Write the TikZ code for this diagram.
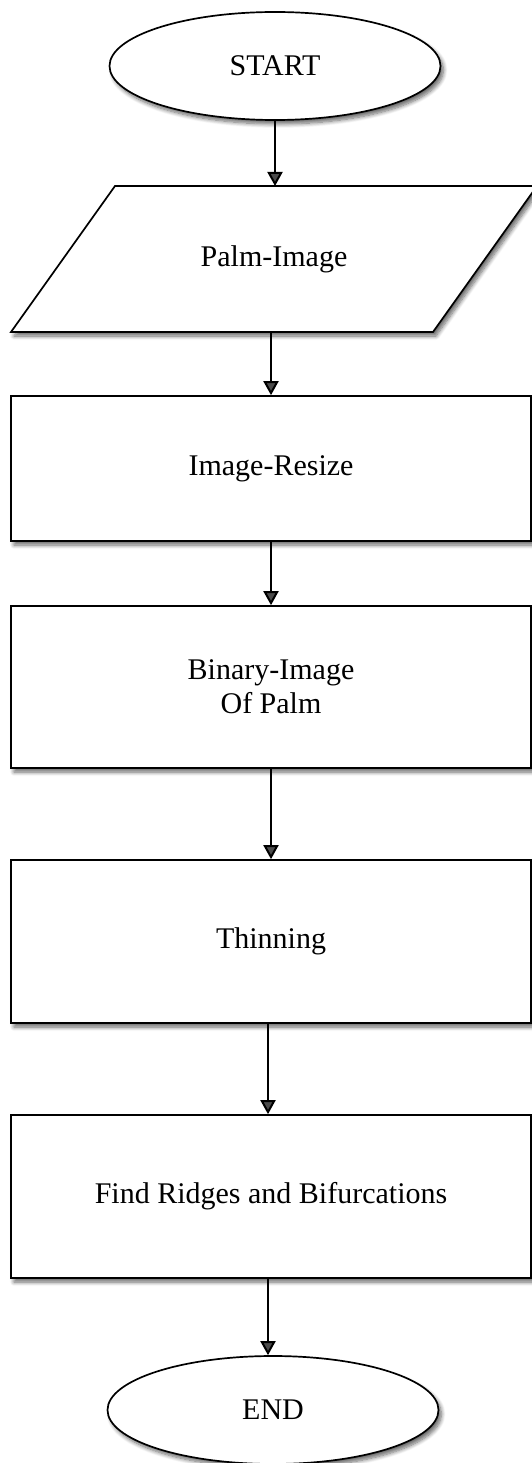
\documentclass[tikz,border=0pt]{standalone}
\usepackage{fontspec}
\setmainfont{Liberation Serif}
\usetikzlibrary{shapes.geometric,arrows.meta,shadows.blur}
\begin{document}
\begin{tikzpicture}[x=1pt,y=-1pt,
  shad/.style={blur shadow={shadow xshift=3pt,shadow yshift=-4pt,shadow blur steps=8,shadow blur radius=4pt,shadow opacity=60}},
  base/.style={draw=black,line width=1.7pt,fill=white,inner sep=0pt,align=center,
    font=\fontsize{30}{34}\selectfont,shad},
  term/.style={base,ellipse,minimum width=331pt,minimum height=108pt},
  lbl/.style={inner sep=0pt,align=center,font=\fontsize{30}{34}\selectfont},
  procbox/.style={base,rectangle,minimum width=520pt},
  arr/.style={line width=2pt,-{Triangle[width=15pt,length=14pt]}}
]
\useasboundingbox (0,0) rectangle (531,1463);
\node[term] (start) at (275,66) {START};
\draw[line width=1.7pt,fill=white,shad] (115,186) -- (537,186) -- (433,332) -- (11,332) -- cycle;
\node[lbl] (palm) at (274,259) {Palm-Image};
\coordinate (palmtop) at (275,186);
\coordinate (palmbot) at (271,332);
\node[procbox,minimum height=145pt] (resize) at (271,468.5) {Image-Resize};
\node[procbox,minimum height=162pt] (binary) at (271,687) {Binary-Image\\Of Palm};
\node[procbox,minimum height=163pt] (thin) at (271,941.5) {Thinning};
\node[procbox,minimum height=163pt] (ridges) at (271,1196.5) {Find Ridges and Bifurcations};
\node[term] (end) at (273,1410) {END};

\draw[arr] (start.south) -- (palmtop);
\draw[arr] (palmbot) -- (resize.north);
\draw[arr] (resize.south) -- (binary.north);
\draw[arr] (binary.south) -- (thin.north);
\draw[arr] ([xshift=-3pt]thin.south) -- ([xshift=-3pt]ridges.north);
\draw[arr] ([xshift=-3pt]ridges.south) -- ([xshift=-3pt]ridges.south |- end.north);
\end{tikzpicture}
\end{document}
